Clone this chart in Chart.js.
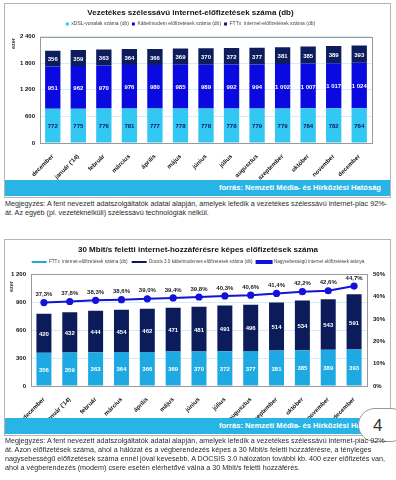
<!DOCTYPE html>
<html>
<head>
<meta charset="utf-8">
<script src="https://cdn.jsdelivr.net/npm/chart.js@4"></script>
<style>
  body { margin: 0; width: 396px; height: 480px; background: #fff; position: relative; overflow: hidden; font-family: "Liberation Sans", Arial, sans-serif; }
  .box { position: absolute; left: 4px; width: 385px; border: 1px solid #b5b5b5; background: #fff; }
  .band { position: absolute; left: 0; right: 0; height: 16px; background: #29b4e6; color: #fff; font-weight: bold; font-size: 7.6px; text-align: right; line-height: 16px; padding-right: 9px; box-sizing: border-box; }
  canvas { position: absolute; left: 0; }
  .ezer { position: absolute; font-size: 5.5px; font-weight: bold; color: #333; transform: rotate(-90deg); transform-origin: left top; }
  .note { position: absolute; left: 5px; width: 384px; font-size: 7.2px; line-height: 9.1px; color: #2a2a2a; }
  .badge { position: absolute; left: 358px; top: 408px; width: 50px; height: 34px; background: #fff; border: 1px solid #999; border-radius: 17px; font-size: 17px; color: #333; line-height: 34px; padding-left: 14px; box-sizing: border-box; }
</style>
</head>
<body>

<div class="box" style="top:3px;height:193px;">
  <canvas id="chart1" width="384" height="176" style="top:0"></canvas>
  <div class="ezer" style="left:5px;top:45px;">ezer</div>
  <div class="band" style="top:176px;">forrás: Nemzeti Média- és Hírközlési Hatóság</div>
</div>
<div class="note" style="top:199px;">Megjegyzés: A fent nevezett adatszolgáltatók adatai alapján, amelyek lefedik a vezetékes szélessávú internet-piac 92%-át. Az egyéb (pl. vezetéknélküli) szélessávú technológiák nélkül.</div>

<div class="box" style="top:239px;height:195px;">
  <canvas id="chart2" width="384" height="178" style="top:0"></canvas>
  <div class="ezer" style="left:3px;top:52px;">ezer</div>
  <div class="band" style="top:178px;">forrás: Nemzeti Média- és Hírközlési Hatóság</div>
</div>
<div class="badge">4</div>
<div class="note" style="top:436px;">Megjegyzés: A fent nevezett adatszolgáltatók adatai alapján, amelyek lefedik a vezetékes szélessávú internet-piac 92%-át. Azon előfizetések száma, ahol a hálózat és a végberendezés képes a 30 Mbit/s feletti hozzáférésre, a tényleges nagysebességű előfizetések száma ennél jóval kevesebb. A DOCSIS 3.0 hálózaton további kb. 400 ezer előfizetés van, ahol a végberendezés (modem) csere esetén elérhetővé válna a 30 Mbit/s feletti hozzáférés.</div>

<script>
// hónapok (2013 dec - 2014 dec)
const months = ['december', "január ('14)", 'február', 'március', 'április', 'május', 'június',
  'július', 'augusztus', 'szeptember', 'október', 'november', 'december'];

// 1. grafikon - ezer előfizetés
const xdsl = [772, 775, 776, 781, 777, 778, 778, 778, 779, 779, 784, 782, 784];
const kabel = [951, 962, 970, 976, 980, 985, 989, 992, 994, 1002, 1007, 1017, 1024];
const fttx = [356, 359, 363, 364, 366, 369, 370, 372, 377, 381, 385, 389, 393];
const yTicks1 = [0, 600, 1200, 1800, 2400];

// 2. grafikon
const docsis3 = [420, 432, 444, 454, 462, 471, 481, 491, 496, 514, 534, 543, 591];
const aranyPct = [37.3, 37.8, 38.3, 38.6, 39.0, 39.4, 39.8, 40.3, 40.6, 41.4, 42.2, 42.6, 44.7];
const yTicks2 = [0, 300, 600, 900, 1200];
const pctTicks = [0, 10, 20, 30, 40, 50];

const FONT = '"Liberation Sans", Arial, sans-serif';

function fmt(n) {
  return String(n).replace(/\B(?=(\d{3})+(?!\d))/g, ' ');
}

// számok az oszlopokra + százalékok a vonal fölé
const valueLabels = {
  id: 'valueLabels',
  afterDatasetsDraw(chart) {
    const ctx = chart.ctx;
    ctx.save();
    ctx.font = 'bold 6px ' + FONT;
    ctx.textAlign = 'center';
    ctx.textBaseline = 'middle';
    chart.data.datasets.forEach((ds, i) => {
      const meta = chart.getDatasetMeta(i);
      meta.data.forEach((el, j) => {
        const v = ds.data[j];
        if (meta.type === 'bar') {
          ctx.fillStyle = ds.labelColor || '#fff';
          ctx.fillText(fmt(v), el.x, (el.y + el.base) / 2 + 1);
        } else {
          ctx.fillStyle = '#222';
          ctx.fillText(v.toFixed(1).replace('.', ',') + '%', el.x, el.y - 8);
        }
      });
    });
    ctx.restore();
  }
};

const plotBorder = {
  id: 'plotBorder',
  beforeDatasetsDraw(chart) {
    const a = chart.chartArea;
    const ctx = chart.ctx;
    ctx.save();
    ctx.strokeStyle = '#9a9a9a';
    ctx.lineWidth = 1;
    ctx.strokeRect(Math.round(a.left) + 0.5, Math.round(a.top) + 0.5, Math.round(a.right - a.left), Math.round(a.bottom - a.top));
    ctx.restore();
  }
};

function xAxis(h) {
  return {
    stacked: true,
    grid: { display: false },
    border: { display: false },
    afterFit: s => { s.height = h; },
    ticks: { color: '#111', font: { family: FONT, size: 6, weight: 'bold' }, maxRotation: 45, minRotation: 45, padding: 2 }
  };
}

new Chart(document.getElementById('chart1'), {
  type: 'bar',
  data: {
    labels: months,
    datasets: [
      { label: 'xDSL-vonalak száma (db)', data: xdsl, backgroundColor: '#33c8f4', labelColor: '#0d1a5e' },
      { label: 'Kábelmodem előfizetések száma (db)', data: kabel, backgroundColor: '#0a0ae0', labelColor: '#fff' },
      { label: 'FTTx  internet-előfizetések száma (db)', data: fttx, backgroundColor: '#0c1c5c', labelColor: '#fff' }
    ]
  },
  options: {
    responsive: false,
    animation: false,
    datasets: { bar: { barPercentage: 0.6, categoryPercentage: 1 } },
    layout: { padding: { left: 4, right: 17, top: 0, bottom: 0 } },
    plugins: {
      title: { display: true, text: 'Vezetékes szélessávú internet-előfizetések száma (db)', color: '#111',
        font: { family: FONT, size: 8, weight: 'bold' }, padding: { top: 4, bottom: 1 } },
      legend: { labels: { boxWidth: 3, boxHeight: 3, color: '#444', font: { family: FONT, size: 5 }, padding: 3 } },
      tooltip: { enabled: false }
    },
    scales: {
      x: xAxis(37),
      y: {
        stacked: true, min: 0, max: 2400,
        afterBuildTicks: s => { s.ticks = yTicks1.map(v => ({ value: v })); },
        afterFit: s => { s.width = 31; },
        grid: { color: '#d3ecf7', drawTicks: false },
        border: { display: false },
        ticks: { color: '#111', font: { family: FONT, size: 6, weight: 'bold' }, padding: 5, callback: v => fmt(v) }
      }
    }
  },
  plugins: [plotBorder, valueLabels]
});

new Chart(document.getElementById('chart2'), {
  type: 'bar',
  data: {
    labels: months,
    datasets: [
      { label: 'FTTx  internet-előfizetések száma (db)', data: fttx, backgroundColor: '#1ea9e3', labelColor: '#fff', order: 2 },
      { label: 'Docsis 3.0 kábelmodemes előfizetések száma (db)', data: docsis3, backgroundColor: '#0c1c5a', labelColor: '#fff', order: 2 },
      { type: 'line', label: 'Nagysebességű internet előfizetések aránya', data: aranyPct, yAxisID: 'y1',
        borderColor: '#1212d8', backgroundColor: '#1212d8', borderWidth: 2, pointRadius: 2.6, tension: 0, order: 0 }
    ]
  },
  options: {
    responsive: false,
    animation: false,
    datasets: { bar: { barPercentage: 0.58, categoryPercentage: 1 } },
    layout: { padding: { left: 2, right: 0, top: 0, bottom: 0 } },
    plugins: {
      title: { display: true, text: '30 Mbit/s feletti internet-hozzáférésre képes előfizetések száma', color: '#111',
        font: { family: FONT, size: 8, weight: 'bold' }, padding: { top: 5, bottom: 1 } },
      legend: { labels: { boxWidth: 15, boxHeight: 2, color: '#444', font: { family: FONT, size: 4.6 }, padding: 4,
        sort: (a, b) => a.datasetIndex - b.datasetIndex } },
      tooltip: { enabled: false }
    },
    scales: {
      x: xAxis(32),
      y: {
        stacked: true, min: 0, max: 1200,
        afterBuildTicks: s => { s.ticks = yTicks2.map(v => ({ value: v })); },
        afterFit: s => { s.width = 24; },
        grid: { color: '#d3ecf7', drawTicks: false },
        border: { display: false },
        ticks: { color: '#111', font: { family: FONT, size: 6, weight: 'bold' }, padding: 5, callback: v => fmt(v) }
      },
      y1: {
        position: 'right', min: 0, max: 50,
        afterBuildTicks: s => { s.ticks = pctTicks.map(v => ({ value: v })); },
        afterFit: s => { s.width = 22; },
        grid: { display: false, drawTicks: false },
        border: { display: false },
        ticks: { color: '#111', font: { family: FONT, size: 6, weight: 'bold' }, padding: 6, callback: v => v + '%' }
      }
    }
  },
  plugins: [plotBorder, valueLabels]
});
</script>
</body>
</html>
